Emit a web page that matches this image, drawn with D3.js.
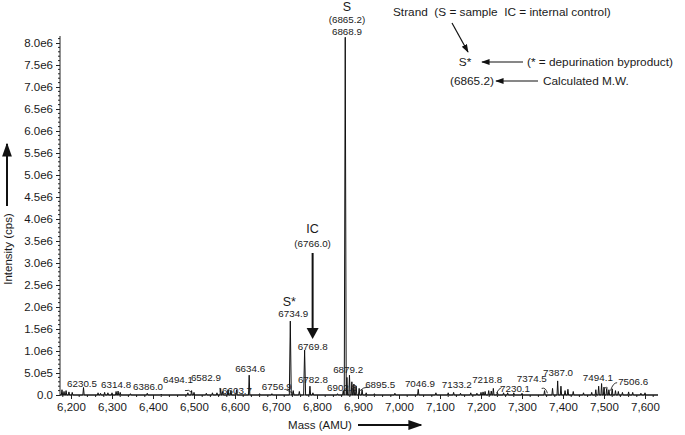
<!DOCTYPE html>
<html><head><meta charset="utf-8">
<script src="https://cdn.jsdelivr.net/npm/d3@7"></script>
<style>
body{margin:0;background:#fff;}
text{font-family:"Liberation Sans",Arial,Helvetica,sans-serif;fill:#1a1a1a;}
</style></head>
<body><svg id="c" width="685" height="435"></svg>
<script>
// ---- data (intensity in cps) ----
const peakMass = [6178,6183,6188,6195,6203,6230.5,6266,6272,6282,6290,6300,6310,6314.8,6320,6345,6386,6420,6485,6494.1,6500,6530,6545,6556,6565,6570,6582.9,6590,6603.7,6634.6,6660,6690,6734.9,6742,6756.9,6769.8,6782.8,6790,6850,6864,6868.9,6873,6879.2,6885,6890,6895.5,6902.8,6910,6920,6940,6990,7046.9,7090,7120,7133.2,7150,7175,7190,7200,7205,7210,7218.8,7225,7230.1,7240,7255,7265,7280,7300,7355,7374.5,7387,7395,7405,7412,7425,7450,7470,7480,7487,7494.1,7500,7506.6,7512,7520,7528,7535,7545,7560,7570,7590,7600];
const peakInt  = [1.2e5,0.8e5,1.0e5,0.7e5,0.6e5,1.7e5,0.5e5,0.4e5,0.6e5,0.5e5,0.5e5,0.8e5,0.9e5,0.6e5,0.3e5,0.4e5,0.2e5,0.5e5,1.0e5,0.6e5,0.4e5,0.5e5,0.5e5,1.5e5,0.8e5,1.2e5,1.0e5,1.2e5,4.5e5,0.3e5,0.3e5,1.68e6,1.0e5,0.8e5,1.02e6,2.0e5,0.5e5,0.3e5,1.0e5,8.13e6,4.0e5,4.5e5,3.0e5,2.5e5,2.0e5,1.5e5,1.2e5,0.5e5,0.3e5,0.4e5,1.3e5,0.5e5,0.5e5,0.6e5,0.4e5,0.5e5,0.4e5,0.6e5,0.7e5,0.8e5,1.0e5,0.9e5,1.5e5,0.6e5,0.5e5,0.5e5,0.5e5,0.4e5,1.0e5,1.5e5,3.2e5,2.0e5,1.0e5,1.3e5,0.8e5,0.5e5,0.6e5,1.2e5,2.0e5,2.6e5,1.8e5,1.5e5,1.2e5,1.4e5,1.0e5,0.8e5,0.6e5,0.7e5,0.6e5,0.4e5,0.5e5];
const xTicks = [6200,6300,6400,6500,6600,6700,6800,6900,7000,7100,7200,7300,7400,7500,7600];
const yTicks = [0,5e5,1e6,1.5e6,2e6,2.5e6,3e6,3.5e6,4e6,4.5e6,5e6,5.5e6,6e6,6.5e6,7e6,7.5e6,8e6];
const yTickLabels = ["0.0","5.0e5","1.0e6","1.5e6","2.0e6","2.5e6","3.0e6","3.5e6","4.0e6","4.5e6","5.0e6","5.5e6","6.0e6","6.5e6","7.0e6","7.5e6","8.0e6"];
// peak labels: text, anchor mass, anchor intensity
const labelText = ["6230.5","6314.8","6386.0","6494.1","6582.9","6603.7","6634.6","6756.9","6782.8","6879.2","6902.8","6895.5","7046.9","7133.2","7218.8","7230.1","7374.5","7387.0","7494.1","7506.6"];
const labelMass = [6227,6310,6388,6461,6529,6605,6637,6702,6790,6876,6861,6954,7051,7141,7215,7283,7324,7388,7485,7571];
const labelInt  = [2.7e5,2.3e5,2.0e5,3.4e5,3.9e5,1.1e5,5.9e5,2.0e5,3.4e5,5.7e5,1.6e5,2.3e5,2.7e5,2.3e5,3.6e5,1.5e5,3.7e5,5.2e5,3.9e5,3.0e5];
// leader hooks from label to peak: [mass1,int1,massCtrl,intCtrl,mass2,int2]
const leaders = [[6478,1.0e5,6488,1.3e5,6494,0.6e5],[6567,0.3e5,6563,0.5e5,6563,1.6e5],[6723,1.3e5,6738,0.6e5,6745,0.2e5],[6925,1.8e5,6913,1.8e5,6905,1.0e5],[7250,1.7e5,7244,1.5e5,7238,0.5e5],[7532,2.8e5,7522,2.8e5,7516,1.0e5],[7348,1.5e5,7358,1.8e5,7362,0.4e5],[7509,1.6e5,7502,2.1e5,7500,0.9e5]];

const svg = d3.select("#c");
const x = d3.scaleLinear().domain([6200,7600]).range([71,645]);
const y = d3.scaleLinear().domain([0,8e6]).range([395,43]);
const xMin = x.invert(60), xMax = x.invert(658), yMax = y.invert(36);

// axes
const yAxis = d3.axisLeft(y).tickValues(yTicks).tickFormat((d,i)=>yTickLabels[i]).tickSize(4).tickPadding(3);
const gy = svg.append("g").attr("transform","translate(60,0)").call(yAxis);
gy.select(".domain").remove();
gy.append("line").attr("x1",0).attr("x2",0).attr("y1",y(0)).attr("y2",y(yMax)).attr("stroke","#222");
gy.selectAll("text").style("font-size","11.5px").attr("fill","#222");
gy.selectAll(".tick line").attr("stroke","#222");
const yMinor = d3.range(1e5, yMax, 1e5).filter(v=>v%5e5!==0);
gy.selectAll(".mny").data(yMinor).join("line").attr("x1",-2).attr("x2",0).attr("y1",d=>y(d)).attr("y2",d=>y(d)).attr("stroke","#222");

const xAxis = d3.axisBottom(x).tickValues(xTicks).tickFormat(d3.format(",")).tickSize(4).tickPadding(4);
const gx = svg.append("g").attr("transform",`translate(0,${y(0)})`).call(xAxis);
gx.select(".domain").remove();
gx.append("line").attr("x1",x(xMin)).attr("x2",x(xMax)).attr("stroke","#222");
gx.selectAll("text").style("font-size","11.5px").attr("fill","#222");
gx.selectAll(".tick line").attr("stroke","#222");
const xMinor = d3.range(6180, 7640, 20).filter(v=>v%100!==0 && v>xMin && v<xMax);
gx.selectAll(".mnx").data(xMinor).join("line").attr("x1",d=>x(d)).attr("x2",d=>x(d)).attr("y1",0).attr("y2",2).attr("stroke","#222");

// spectrum
const pts = [[xMin,0]];
d3.range(peakMass.length).map(i=>[peakMass[i],peakInt[i]]).sort((a,b)=>a[0]-b[0]).forEach(([m,h])=>{
  const w = h>1e6?2.4:1.6;
  pts.push([m-w,0],[m,h],[m+w,0]);
});
pts.push([xMax,0]);
svg.append("path").datum(pts).attr("fill","none").attr("stroke","#111").attr("stroke-width",1)
  .attr("d",d3.line().x(d=>x(d[0])).y(d=>y(d[1])));

// leaders
svg.selectAll(".ld").data(leaders).join("path").attr("fill","none").attr("stroke","#222").attr("stroke-width",0.9)
  .attr("d",d=>`M${x(d[0])},${y(d[1])} Q${x(d[2])},${y(d[3])} ${x(d[4])},${y(d[5])}`);

// peak labels
svg.selectAll(".pl").data(labelText).join("text").attr("x",(d,i)=>x(labelMass[i])).attr("y",(d,i)=>y(labelInt[i]))
  .attr("dy","0.35em").attr("text-anchor","middle").style("font-size","9.8px").text(d=>d);

// defs
const defs = svg.append("defs");
defs.append("marker").attr("id","ah").attr("viewBox","0 0 10 10").attr("refX",9).attr("refY",5)
  .attr("markerWidth",7).attr("markerHeight",7).attr("orient","auto-start-reverse")
  .append("path").attr("d","M0,1.5 L10,5 L0,8.5 Z").attr("fill","#111");

// S peak annotation
const sx = x(6873);
svg.append("text").attr("x",sx).attr("y",7).attr("dy","0.35em").attr("text-anchor","middle").style("font-size","12.5px").text("S");
svg.append("text").attr("x",sx).attr("y",20).attr("dy","0.35em").attr("text-anchor","middle").style("font-size","9.8px").text("(6865.2)");
svg.append("text").attr("x",sx).attr("y",32).attr("dy","0.35em").attr("text-anchor","middle").style("font-size","9.8px").text("6868.9");

// S* annotation
svg.append("text").attr("x",x(6734.9)-1).attr("y",302).attr("dy","0.35em").attr("text-anchor","middle").style("font-size","12.5px").text("S*");
svg.append("text").attr("x",x(6734.9)+3).attr("y",314).attr("dy","0.35em").attr("text-anchor","middle").style("font-size","9.8px").text("6734.9");
// 6769.8
svg.append("text").attr("x",x(6769.8)+8).attr("y",347).attr("dy","0.35em").attr("text-anchor","middle").style("font-size","9.8px").text("6769.8");

// IC annotation
const icx = x(6769.8)+8;
svg.append("text").attr("x",icx).attr("y",229).attr("dy","0.35em").attr("text-anchor","middle").style("font-size","12.5px").text("IC");
svg.append("text").attr("x",icx).attr("y",244).attr("dy","0.35em").attr("text-anchor","middle").style("font-size","9.8px").text("(6766.0)");
svg.append("line").attr("x1",icx).attr("x2",icx).attr("y1",253).attr("y2",330).attr("stroke","#111").attr("stroke-width",2);
svg.append("path").attr("d",`M${icx-6},328 L${icx+6},328 L${icx},339 Z`).attr("fill","#111");

// legend
const lt = (t,xx,yy,anchor)=>svg.append("text").attr("x",xx).attr("y",yy).attr("dy","0.35em").attr("text-anchor",anchor||"start").style("font-size","11.8px").text(t).attr("xml:space","preserve");
lt("Strand  (S = sample  IC = internal control)",393,12);
svg.append("line").attr("x1",452).attr("y1",23).attr("x2",468).attr("y2",52).attr("stroke","#111").attr("stroke-width",1.2).attr("marker-end","url(#ah)");
lt("S*",465,62,"middle");
svg.append("line").attr("x1",523).attr("y1",62).attr("x2",482).attr("y2",62).attr("stroke","#111").attr("stroke-width",1.2).attr("marker-end","url(#ah)");
lt("(* = depurination byproduct)",527,62);
lt("(6865.2)",450,81);
svg.append("line").attr("x1",538).attr("y1",81).attr("x2",496).attr("y2",81).attr("stroke","#111").attr("stroke-width",1.2).attr("marker-end","url(#ah)");
lt("Calculated M.W.",543,81);

// axis titles
svg.append("text").attr("transform","translate(8,249) rotate(-90)").attr("dy","0.35em").attr("text-anchor","middle").style("font-size","11.5px").text("Intensity (cps)");
svg.append("line").attr("x1",7).attr("x2",7).attr("y1",206).attr("y2",144).attr("stroke","#111").attr("stroke-width",2).attr("marker-end","url(#ah)");
svg.append("text").attr("x",320).attr("y",425).attr("dy","0.35em").attr("text-anchor","middle").style("font-size","11.5px").text("Mass (AMU)");
svg.append("line").attr("x1",358).attr("x2",421).attr("y1",425).attr("y2",425).attr("stroke","#111").attr("stroke-width",2).attr("marker-end","url(#ah)");
</script></body></html>
